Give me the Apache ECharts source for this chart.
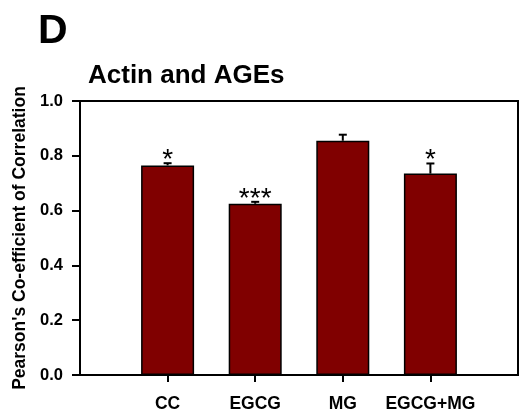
<!DOCTYPE html>
<html>
<head>
<meta charset="utf-8">
<script src="https://cdn.jsdelivr.net/npm/echarts@6/dist/echarts.min.js"></script>
<style>
  html, body { margin: 0; padding: 0; background: #fff; }
  #chart { width: 522px; height: 416px; }
</style>
</head>
<body>
<div id="chart"></div>
<script>
// Pearson's correlation of actin with AGEs per treatment group
const categories = ['CC', 'EGCG', 'MG', 'EGCG+MG'];
const means = [0.765, 0.625, 0.855, 0.735];
const errors = [0.008, 0.007, 0.022, 0.037];
const stars = ['*', '***', '', '*'];
const yTicks = [0.0, 0.2, 0.4, 0.6, 0.8, 1.0];

// padded category list so bars sit on the inner tick positions
const xCats = [''].concat(categories, ['']);
const barData = ['-'].concat(means, ['-']);
const errData = categories.map((c, i) => [i + 1, means[i], errors[i], stars[i]]);

const FONT = '"Liberation Sans", Arial, Helvetica, sans-serif';

const chart = echarts.init(document.getElementById('chart'), null, { renderer: 'canvas' });

chart.setOption({
  animation: false,
  backgroundColor: '#ffffff',
  title: [
    { text: 'D', left: 33, top: 6,
      textStyle: { fontFamily: FONT, fontWeight: 'bold', fontSize: 41, color: '#000' } },
    { text: 'Actin and AGEs', left: 83, top: 58,
      textStyle: { fontFamily: FONT, fontWeight: 'bold', fontSize: 26, color: '#000' } }
  ],
  grid: {
    left: 80, right: 4, top: 101, bottom: 41,
    show: true, borderColor: '#000', borderWidth: 2, backgroundColor: 'transparent'
  },
  xAxis: {
    type: 'category',
    data: xCats,
    boundaryGap: false,
    axisLine: { lineStyle: { color: '#000', width: 2 } },
    axisTick: {
      show: true, length: 7, lineStyle: { color: '#000', width: 2 },
      interval: (idx, val) => val !== ''
    },
    axisLabel: {
      interval: 0, margin: 20, color: '#000',
      fontFamily: FONT, fontWeight: 'bold', fontSize: 17.5
    },
    splitLine: { show: false }
  },
  yAxis: {
    type: 'value',
    min: yTicks[0], max: yTicks[yTicks.length - 1], interval: 0.2,
    name: "Pearson's Co-efficient of Correlation",
    nameLocation: 'middle',
    nameGap: 51,
    nameTextStyle: { fontFamily: FONT, fontWeight: 'bold', fontSize: 17.5, color: '#000' },
    axisLine: { show: true, lineStyle: { color: '#000', width: 2 } },
    axisTick: { show: true, length: 8, lineStyle: { color: '#000', width: 2 } },
    axisLabel: {
      margin: 17, color: '#000', fontFamily: FONT, fontWeight: 'bold', fontSize: 16.5,
      formatter: v => v.toFixed(1)
    },
    splitLine: { show: false }
  },
  series: [
    {
      type: 'bar',
      data: barData,
      barWidth: 53,
      itemStyle: { color: '#800000', borderColor: '#000', borderWidth: 1.5 },
      z: 2
    },
    {
      type: 'custom',
      data: errData,
      z: 3,
      renderItem: (params, api) => {
        const x = api.value(0);
        const m = api.value(1);
        const e = api.value(2);
        const s = errData[params.dataIndex][3];
        const base = api.coord([x, m]);
        const top = api.coord([x, m + e]);
        const cap = 4;
        const children = [
          { type: 'line', shape: { x1: base[0], y1: base[1], x2: top[0], y2: top[1] },
            style: { stroke: '#000', lineWidth: 2 } },
          { type: 'line', shape: { x1: top[0] - cap, y1: top[1], x2: top[0] + cap, y2: top[1] },
            style: { stroke: '#000', lineWidth: 2 } }
        ];
        if (s) {
          children.push({
            type: 'text',
            style: {
              text: s, x: top[0], y: top[1] - 3,
              align: 'center', verticalAlign: 'middle',
              fontFamily: FONT, fontSize: 28, fill: '#000'
            }
          });
        }
        return { type: 'group', children };
      }
    }
  ]
});
</script>
</body>
</html>
